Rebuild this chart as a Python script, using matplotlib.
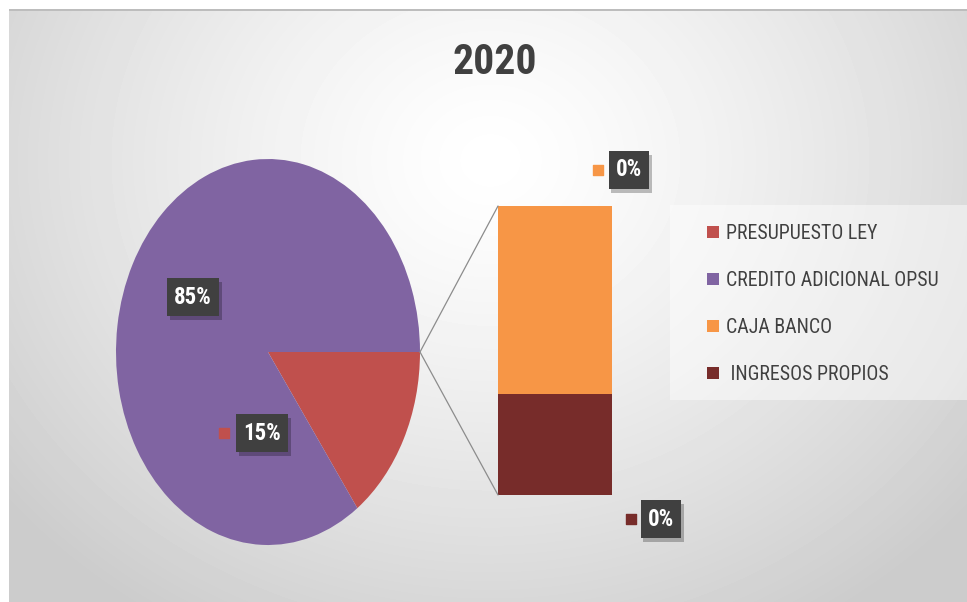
import numpy as np
import matplotlib
matplotlib.use("Agg")
from matplotlib import pyplot as plt
from matplotlib.patches import ConnectionPatch, Rectangle
from matplotlib import patheffects as pe

plt.rcParams['font.family'] = ['Roboto Condensed', 'DejaVu Sans']

# values in percent of the 2020 budget
title = "2020"
pie_labels = ["PRESUPUESTO LEY", "CREDITO ADICIONAL OPSU"]
pie_values = [15, 85]
bar_labels = ["CAJA BANCO", " INGRESOS PROPIOS"]
bar_values = [0.26, 0.14]

pie_colors = ["#C0504D", "#8064A2"]
bar_colors = ["#F79646", "#772C2A"]
text_color = "#404040"

W, H = 967, 602
fig = plt.figure(figsize=(W / 100, H / 100), dpi=100)

# background: white margin, then a soft radial grey gradient
bg = fig.add_axes([0, 0, 1, 1])
yy, xx = np.mgrid[0:H, 0:W]
d = np.sqrt(((xx - 490) / 620.0) ** 2 + ((yy - 160) / 540.0) ** 2)
shade = 1 - 0.2 * np.clip(d, 0, 1) ** 1.3
shade[:9, :] = 1.0
shade[:, :9] = 1.0
shade[9:11, 9:] = 0.74
bg.imshow(shade, cmap="gray", vmin=0, vmax=1, extent=(0, W, H, 0), aspect="auto")
bg.set_xlim(0, W)
bg.set_ylim(H, 0)
bg.axis("off")
# lighter panel behind the legend
bg.add_patch(Rectangle((670, 205), W - 670, 195, fc="white", ec="none",
                       alpha=0.45, zorder=2))

# pie (stretched vertically)
ax_pie = fig.add_axes([116 / W, 1 - 545 / H, 304 / W, 386 / H])
wedges, _ = ax_pie.pie(pie_values, colors=pie_colors, startangle=0,
                       counterclock=False, radius=1.0)
ax_pie.set_aspect("auto")
ax_pie.set_xlim(-1, 1)
ax_pie.set_ylim(-1, 1)
ax_pie.axis("off")

# stacked bar breaking out the small items
ax_bar = fig.add_axes([498 / W, 1 - 495 / H, 114 / W, 289 / H])
bottom = 0
bar_handles = []
for val, col, lab in zip(bar_values[::-1], bar_colors[::-1], bar_labels[::-1]):
    b = ax_bar.bar(0, val, width=1.0, bottom=bottom, color=col, label=lab)
    bar_handles.append(b)
    bottom += val
bar_handles = bar_handles[::-1]
ax_bar.set_xlim(-0.5, 0.5)
ax_bar.set_ylim(0, sum(bar_values))
ax_bar.axis("off")

# connector lines from the pie edge to the bar corners
for yb in (sum(bar_values), 0):
    con = ConnectionPatch(xyA=(1, 0), coordsA=ax_pie.transData,
                          xyB=(-0.5, yb), coordsB=ax_bar.transData,
                          color="#8c8c8c", lw=0.9)
    fig.add_artist(con)

# overlay for the title and the data labels (in pixel units)
top = fig.add_axes([0, 0, 1, 1])
top.set_xlim(0, W)
top.set_ylim(H, 0)
top.axis("off")
top.patch.set_alpha(0)

top.text(495, 62, title, ha="center", va="center", fontsize=30,
         fontweight="bold", color=text_color)


def data_label(x, y, text, marker_color=None, marker_x=None):
    t = top.text(x, y, text, ha="center", va="center", fontsize=16.5,
                 fontweight="bold", color="white", zorder=5,
                 bbox=dict(boxstyle="square,pad=0.32", fc="#404040", ec="none"))
    t.get_bbox_patch().set_path_effects(
        [pe.SimplePatchShadow(offset=(2, -3), shadow_rgbFace="black", alpha=0.25),
         pe.Normal()])
    if marker_color is not None:
        top.scatter([marker_x], [y], marker="s", s=55, color=marker_color, zorder=5)


data_label(193, 297, f"{pie_values[1]}%")
data_label(262, 433, f"{pie_values[0]}%", pie_colors[0], 224)
data_label(629, 170, f"{bar_values[0]:.0f}%", bar_colors[0], 598)
data_label(661, 519, f"{bar_values[1]:.0f}%", bar_colors[1], 631)

handles = list(wedges) + bar_handles
labels = pie_labels + bar_labels
leg = fig.legend(handles, labels, loc="upper left",
                 bbox_to_anchor=(707 / W, 1 - 224 / H), frameon=False,
                 fontsize=14.3, labelcolor=text_color, handlelength=0.6,
                 handleheight=0.6, handletextpad=0.35, labelspacing=1.41,
                 borderpad=0, borderaxespad=0)

fig.savefig("out.png", dpi=100)
